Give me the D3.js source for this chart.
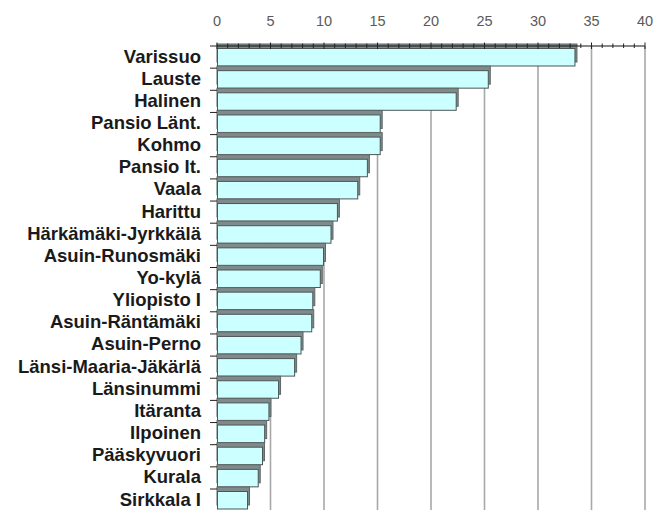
<!DOCTYPE html>
<html>
<head>
<meta charset="utf-8">
<script src="https://cdn.jsdelivr.net/npm/d3@7"></script>
<style>
  body { margin: 0; background: #fff; }
  svg { display: block; }
</style>
</head>
<body>
<svg id="chart" width="658" height="510"></svg>
<script>
var categories = ['Varissuo', 'Lauste', 'Halinen', 'Pansio Länt.', 'Kohmo', 'Pansio It.', 'Vaala',
    'Harittu', 'Härkämäki-Jyrkkälä', 'Asuin-Runosmäki', 'Yo-kylä', 'Yliopisto I', 'Asuin-Räntämäki',
    'Asuin-Perno', 'Länsi-Maaria-Jäkärlä', 'Länsinummi', 'Itäranta', 'Ilpoinen', 'Pääskyvuori',
    'Kurala', 'Sirkkala I'];
var values = [33.5, 25.4, 22.4, 15.3, 15.3, 14.1, 13.2, 11.3, 10.7, 10.0, 9.7, 9.0, 8.9,
    7.9, 7.3, 5.8, 4.9, 4.5, 4.3, 3.9, 2.9];
var tickValues = [0, 5, 10, 15, 20, 25, 30, 35, 40];

var data = categories.map(function (c, i) { return { name: c, value: values[i] }; });

var svg = d3.select('#chart');
var plotTop = 46, plotBottom = 46 + 22.15 * categories.length;

var x = d3.scaleLinear().domain([0, 40]).range([217, 645]);
var y = d3.scaleBand().domain(categories).range([plotTop, plotBottom]).paddingInner(0).paddingOuter(0);

// vertical gridlines
svg.append('g')
    .selectAll('line')
    .data(tickValues.slice(1))
    .enter()
    .append('line')
    .attr('x1', function (d) { return x(d); })
    .attr('x2', function (d) { return x(d); })
    .attr('y1', plotTop)
    .attr('y2', 510)
    .attr('stroke', '#a8a8a8')
    .attr('stroke-width', 1.6);

// bars: shadow offset up, then cyan face
var bars = svg.append('g')
    .selectAll('g')
    .data(data)
    .enter()
    .append('g');

bars.append('rect')
    .attr('x', x(0))
    .attr('y', function (d) { return y(d.name) - 2; })
    .attr('width', function (d) { return x(d.value) - x(0) + 1.5; })
    .attr('height', 18)
    .attr('fill', '#7f8b8b')
    .attr('stroke', '#5f6767')
    .attr('stroke-width', 1);

bars.append('rect')
    .attr('x', x(0) + 0.5)
    .attr('y', function (d) { return y(d.name) + 2.5; })
    .attr('width', function (d) { return x(d.value) - x(0) - 1; })
    .attr('height', 17.5)
    .attr('fill', '#ccffff')
    .attr('stroke', '#4d5555')
    .attr('stroke-width', 1);

// top axis: minor ticks every 1, major every 5
var axis = svg.append('g');
axis.append('line')
    .attr('x1', x(0)).attr('x2', x(40))
    .attr('y1', plotTop).attr('y2', plotTop)
    .attr('stroke', '#111').attr('stroke-width', 1);

axis.selectAll('line.tick')
    .data(d3.range(0, 41))
    .enter()
    .append('line')
    .attr('class', 'tick')
    .attr('x1', function (d) { return x(d); })
    .attr('x2', function (d) { return x(d); })
    .attr('y1', function (d) { return d % 5 === 0 ? plotTop - 3.5 : plotTop - 2.5; })
    .attr('y2', function (d) { return d % 5 === 0 ? plotTop + 3 : plotTop + 2; })
    .attr('stroke', '#222')
    .attr('stroke-width', 1);

axis.selectAll('text')
    .data(tickValues)
    .enter()
    .append('text')
    .attr('x', function (d) { return x(d); })
    .attr('y', 26)
    .attr('text-anchor', 'middle')
    .attr('font-family', 'Liberation Sans, Arial, sans-serif')
    .attr('font-size', 14.5)
    .attr('fill', '#5a5a5a')
    .text(function (d) { return d; });

// category ticks on the left
svg.append('g')
    .selectAll('line')
    .data(categories)
    .enter()
    .append('line')
    .attr('x1', x(0) - 7)
    .attr('x2', x(0))
    .attr('y1', function (d) { return y(d); })
    .attr('y2', function (d) { return y(d); })
    .attr('stroke', '#222')
    .attr('stroke-width', 1);

// category labels
svg.append('g')
    .selectAll('text')
    .data(categories)
    .enter()
    .append('text')
    .attr('x', 201)
    .attr('y', function (d) { return y(d) + 16.5; })
    .attr('text-anchor', 'end')
    .attr('font-family', 'Liberation Sans, Arial, sans-serif')
    .attr('font-size', 18.5)
    .attr('font-weight', 'bold')
    .attr('fill', '#1a1a1a')
    .text(function (d) { return d; });
</script>
</body>
</html>
